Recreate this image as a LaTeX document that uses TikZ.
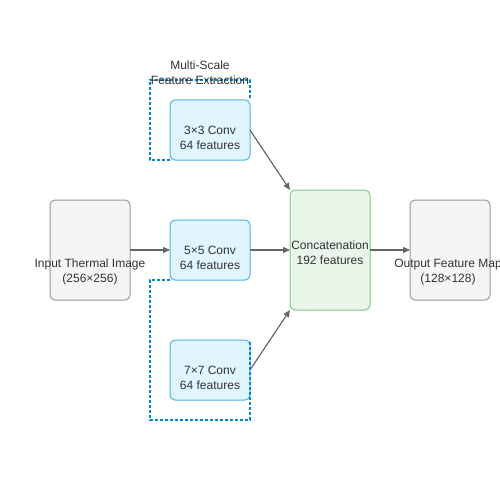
\documentclass[tikz,border=0pt]{standalone}
\usepackage{fontspec}
\setmainfont{Liberation Sans}
\usetikzlibrary{arrows.meta}
\definecolor{convfill}{HTML}{E1F5FE}
\definecolor{convdraw}{HTML}{4FB3E8}
\definecolor{grpdraw}{HTML}{0288D1}
\definecolor{grayfill}{HTML}{F5F5F5}
\definecolor{graydraw}{HTML}{999999}
\definecolor{catfill}{HTML}{E8F5E9}
\definecolor{catdraw}{HTML}{82C785}
\definecolor{arr}{HTML}{666666}
\definecolor{txt}{HTML}{333333}
\begin{document}
\begin{tikzpicture}[x=1pt,y=-1pt,
  box/.style={rounded corners=5pt,line width=1pt},
  conv/.style={box,fill=convfill,draw=convdraw},
  io/.style={box,fill=grayfill,draw=graydraw},
  cat/.style={box,fill=catfill,draw=catdraw},
  lbl/.style={text=txt,font=\fontsize{12}{15}\selectfont,align=center,inner sep=0pt},
  grp/.style={draw=grpdraw,line width=1.5pt,dash pattern=on 3pt off 2pt},
  conn/.style={draw=arr,line width=1.2pt,-{Triangle[length=7pt,width=6pt]}}]
\useasboundingbox (0,0) rectangle (500,500);
\fill[white] (0,0) rectangle (500,500);
% group (upper part)
\draw[grp] (170,160) -- (150,160) -- (150,80) -- (250,80) -- (250,100);
% boxes
\draw[io] (50,200) rectangle (130,300);
\draw[conv] (170,100) rectangle (250,160);
\draw[conv] (170,220) rectangle (250,280);
\draw[conv] (170,340) rectangle (250,400);
\draw[cat] (290,190) rectangle (370,310);
\draw[io] (410,200) rectangle (490,300);
% group (lower part)
\draw[grp] (170,280) -- (150,280) -- (150,420) -- (250,420) -- (250,340);
% anchors
\coordinate (in) at (130,250);
\coordinate (c3l) at (170,130);
\coordinate (c3r) at (250,130);
\coordinate (c5l) at (170,250);
\coordinate (c5r) at (250,250);
\coordinate (c7r) at (250,370);
\coordinate (cattop) at (290,190);
\coordinate (catmid) at (290,250);
\coordinate (catbot) at (290,310);
\coordinate (catr) at (370,250);
\coordinate (outl) at (410,250);
% labels
\node[lbl] (tin) at (90,272) {Input Thermal Image\\(256×256)};
\node[lbl] (t3) at (210,137.5) {3×3 Conv\\64 features};
\node[lbl] (t5) at (210,257.5) {5×5 Conv\\64 features};
\node[lbl] (t7) at (210,377.5) {7×7 Conv\\64 features};
\node[lbl] (tcat) at (330,252.5) {Concatenation\\192 features};
\node[lbl] (tout) at (448,272) {Output Feature Map\\(128×128)};
\node[lbl] (tgrp) at (200,73) {Multi-Scale\\Feature Extraction};
% connectors
\draw[conn] (in) -- (c5l);
\draw[conn] (c3r) -- (cattop);
\draw[conn] (c5r) -- (catmid);
\draw[conn] (c7r) -- (catbot);
\draw[conn] (catr) -- (outl);
\end{tikzpicture}
\end{document}
